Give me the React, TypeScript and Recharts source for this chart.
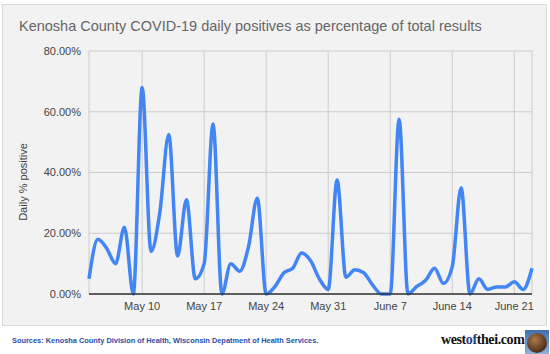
import React from 'react';
import { LineChart, Line, XAxis, YAxis, CartesianGrid } from 'recharts';

// daily % positive, May 4 .. June 23 (one value per day)
const positives = [
  5, 18, 15, 10, 22, 0, 68, 14, 27, 52.5, 12.5, 31, 5, 10, 56, 0, 10, 7.5, 15.5, 31.5, 0, 2.5, 7, 8.5, 13.5, 11, 5, 1.5,
  37.5, 5.5, 8, 7, 3, 0, 0, 57.5, 0, 2.5, 4.5, 8.5, 3.5, 9, 35, 0, 5, 1.5, 2.3, 2.3, 4, 1.5, 8.5,
];
const tickDays = [6, 13, 20, 27, 34, 41, 48];
const tickLabels = ['May 10', 'May 17', 'May 24', 'May 31', 'June 7', 'June 14', 'June 21'];
const yTicks = [0, 20, 40, 60, 80];

const data = positives.map((v, i) => ({ day: i, pct: v }));

const font = "Arial, 'Liberation Sans', sans-serif";

export default function App() {
  return (
    <div style={{ position: 'absolute', left: 0, top: 0, width: 550, height: 354, background: '#fff', fontFamily: font }}>
      <div
        style={{
          position: 'absolute',
          left: 2,
          top: 4,
          width: 543,
          height: 320,
          background: '#f2f2f2',
          border: '1px solid #dadada',
        }}
      />
      <div style={{ position: 'absolute', left: 19, top: 18, fontSize: 14.5, color: '#666' }}>
        Kenosha County COVID-19 daily positives as percentage of total results
      </div>
      <div
        style={{
          position: 'absolute',
          left: 23,
          top: 182,
          fontSize: 11,
          color: '#444',
          whiteSpace: 'nowrap',
          transform: 'translate(-50%, -50%) rotate(-90deg)',
        }}
      >
        Daily % positive
      </div>
      <div style={{ position: 'absolute', left: 0, top: 0 }}>
        <LineChart width={550} height={330} data={data} margin={{ top: 51, right: 18, bottom: 0, left: 0 }}>
          <CartesianGrid stroke="#cccccc" />
          <XAxis
            dataKey="day"
            type="number"
            domain={[0, positives.length - 1]}
            ticks={tickDays}
            tickFormatter={(d: number) => tickLabels[tickDays.indexOf(d)]}
            height={36}
            tickLine={false}
            axisLine={{ stroke: '#333', strokeWidth: 1.5 }}
            tick={{ fill: '#444', fontSize: 11, fontFamily: font }}
          />
          <YAxis
            domain={[0, 80]}
            ticks={yTicks}
            width={89}
            tickLine={false}
            axisLine={false}
            tickFormatter={(v: number) => v.toFixed(2) + '%'}
            tick={{ fill: '#444', fontSize: 11, fontFamily: font }}
          />
          <Line
            type="monotone"
            dataKey="pct"
            stroke="#4285f4"
            strokeWidth={3.5}
            dot={false}
            isAnimationActive={false}
          />
        </LineChart>
      </div>
      <div style={{ position: 'absolute', left: 12, top: 336, fontSize: 7.4, fontWeight: 'bold', color: '#2650a8' }}>
        Sources: Kenosha County Division of Health, Wisconsin Depatment of Health Services.
      </div>
      <div
        style={{
          position: 'absolute',
          left: 441,
          top: 332,
          fontSize: 14,
          letterSpacing: -0.4,
          fontWeight: 'bold',
          fontFamily: "'Liberation Serif', 'DejaVu Serif', serif",
          color: '#111',
        }}
      >
        west<span style={{ color: '#1d3f8a' }}>of</span>thei.com
      </div>
      <div
        style={{
          position: 'absolute',
          left: 525,
          top: 330,
          width: 24,
          height: 24,
          background: 'linear-gradient(#3f6fb0, #8fb2d8)',
        }}
      >
        <div
          style={{
            position: 'absolute',
            left: 2,
            top: 3,
            width: 20,
            height: 20,
            borderRadius: '50%',
            background: 'radial-gradient(circle at 40% 35%, #b07a4a, #5a3a22 60%, #2a1a10)',
          }}
        />
      </div>
    </div>
  );
}
